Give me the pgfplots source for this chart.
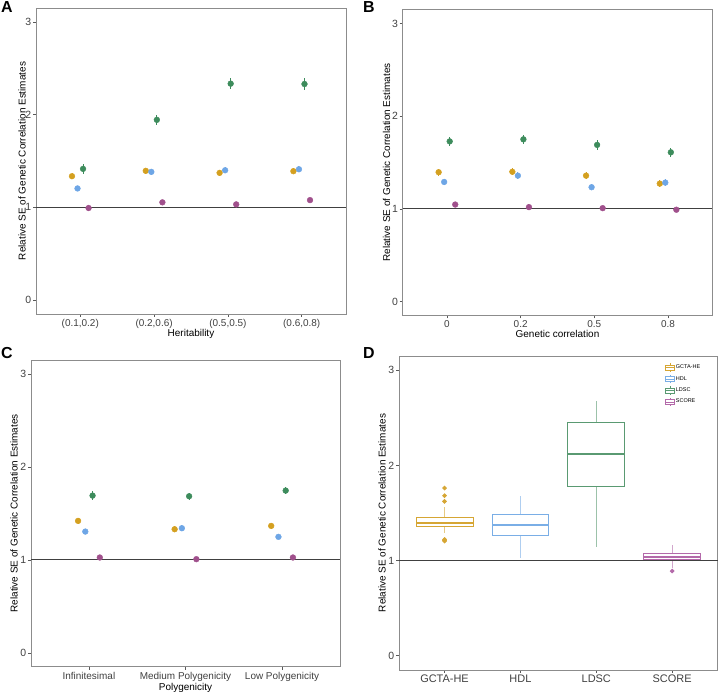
\documentclass[border=0pt]{standalone}
\usepackage{fontspec}
\setmainfont{Liberation Sans}
\usepackage{pgfplots}
\pgfplotsset{compat=1.18}
\usepgfplotslibrary{statistics}
\definecolor{cO}{HTML}{D4A020}
\definecolor{cB}{HTML}{6EA6E6}
\definecolor{cG}{HTML}{3D8C5C}
\definecolor{cP}{HTML}{A0508C}
\definecolor{dO}{HTML}{D6A634}
\definecolor{dB}{HTML}{7AAEE6}
\definecolor{dG}{HTML}{5A9A72}
\definecolor{dP}{HTML}{B46AAA}
\pgfplotsset{
  panel/.style={
    scale only axis,
    ymin=-0.15, ymax=3.15,
    ytick={0,1,2,3},
    tick align=outside,
    tick pos=left,
    major tick length=3bp,
    tick style={black!65, line width=0.5bp},
    axis line style={black!45, line width=0.8bp},
    /pgf/number format/assume math mode=true,
    ticklabel style={font=\fontsize{10}{11}\selectfont, text=black!75},
    yticklabel style={inner sep=1.5bp, font=\fontsize{10.5}{11}\selectfont},
    xticklabel style={inner sep=2bp},
    label style={font=\fontsize{10}{11}\selectfont},
    ylabel={Relative SE of Genetic Correlation Estimates},
    clip=false,
  },
  pts/.style={only marks, mark=*, mark size=2.9bp, color=#1,
    mark options={fill=#1, draw=#1},
    error bars/.cd, y dir=both, y explicit, error mark=none,
    error bar style={line width=0.9bp, color=#1}},
  boxleg/.style={legend image code/.code={
    \draw[##1] (0bp,-2.6bp) rectangle (9bp,2.6bp);
    \draw[##1] (0bp,0bp) -- (9bp,0bp);
    \draw[##1] (4.5bp,2.6bp) -- (4.5bp,4.2bp);
    \draw[##1] (4.5bp,-2.6bp) -- (4.5bp,-4.2bp);
  }},
}
\begin{document}
\begin{tikzpicture}
\useasboundingbox (0,0) rectangle (719bp,692bp);
% ---------------- A
\begin{axis}[panel, at={(36bp,378bp)}, anchor=south west, width=310bp, height=306bp,
  xmin=0.4, xmax=4.6, xtick={1,2,3,4},
  xticklabels={{(0.1,0.2)},{(0.2,0.6)},{(0.5,0.5)},{(0.6,0.8)}},
  xlabel={Heritability},
  xlabel style={at={(axis description cs:0.5,-0.066)}, anchor=center},
  ylabel style={at={(axis description cs:-0.045,0.5)}, anchor=center}]
\addplot[black!75, line width=1bp] coordinates {(0.4,1) (4.6,1)};
\addplot[pts=cO] coordinates {(0.8875,1.336) +- (0,0.03) (1.8875,1.394) +- (0,0.03) (2.8875,1.372) +- (0,0.03) (3.8875,1.390) +- (0,0.03)};
\addplot[pts=cB] coordinates {(0.9625,1.204) +- (0,0.03) (1.9625,1.383) +- (0,0.03) (2.9625,1.400) +- (0,0.03) (3.9625,1.411) +- (0,0.03)};
\addplot[pts=cG] coordinates {(1.0375,1.415) +- (0,0.05) (2.0375,1.944) +- (0,0.055) (3.0375,2.334) +- (0,0.06) (4.0375,2.330) +- (0,0.06)};
\addplot[pts=cP] coordinates {(1.1125,0.993) +- (0,0.02) (2.1125,1.054) +- (0,0.02) (3.1125,1.032) +- (0,0.02) (4.1125,1.078) +- (0,0.02)};
\end{axis}
% ---------------- B
\begin{axis}[panel, at={(402.7bp,376.7bp)}, anchor=south west, width=309.6bp, height=305.6bp,
  xmin=0.4, xmax=4.6, xtick={1,2,3,4},
  xticklabels={0,0.2,0.5,0.8},
  xlabel={Genetic correlation},
  xlabel style={at={(axis description cs:0.5,-0.062)}, anchor=center},
  ylabel style={at={(axis description cs:-0.052,0.5)}, anchor=center}]
\addplot[black!75, line width=1bp] coordinates {(0.4,1) (4.6,1)};
\addplot[pts=cO] coordinates {(0.8875,1.395) +- (0,0.04) (1.8875,1.400) +- (0,0.04) (2.8875,1.358) +- (0,0.04) (3.8875,1.272) +- (0,0.04)};
\addplot[pts=cB] coordinates {(0.9625,1.290) +- (0,0.035) (1.9625,1.358) +- (0,0.035) (2.9625,1.233) +- (0,0.035) (3.9625,1.283) +- (0,0.035)};
\addplot[pts=cG] coordinates {(1.0375,1.728) +- (0,0.05) (2.0375,1.750) +- (0,0.05) (3.0375,1.690) +- (0,0.05) (4.0375,1.610) +- (0,0.05)};
\addplot[pts=cP] coordinates {(1.1125,1.046) +- (0,0.03) (2.1125,1.018) +- (0,0.03) (3.1125,1.007) +- (0,0.025) (4.1125,0.990) +- (0,0.025)};
\end{axis}
% ---------------- C
\begin{axis}[panel, at={(31bp,25.3bp)}, anchor=south west, width=309bp, height=306.7bp,
  xmin=0.4, xmax=3.6, xtick={1,2,3},
  xticklabels={Infinitesimal,Medium Polygenicity,Low Polygenicity},
  xlabel={Polygenicity},
  xlabel style={at={(axis description cs:0.5,-0.068)}, anchor=center},
  ylabel style={at={(axis description cs:-0.055,0.5)}, anchor=center}]
\addplot[black!75, line width=1bp] coordinates {(0.4,1) (3.6,1)};
\addplot[pts=cO] coordinates {(0.8875,1.419) +- (0,0.03) (1.8875,1.329) +- (0,0.03) (2.8875,1.365) +- (0,0.03)};
\addplot[pts=cB] coordinates {(0.9625,1.304) +- (0,0.03) (1.9625,1.340) +- (0,0.03) (2.9625,1.247) +- (0,0.025)};
\addplot[pts=cG] coordinates {(1.0375,1.691) +- (0,0.045) (2.0375,1.684) +- (0,0.04) (3.0375,1.745) +- (0,0.04)};
\addplot[pts=cP] coordinates {(1.1125,1.025) +- (0,0.025) (2.1125,1.007) +- (0,0.02) (3.1125,1.025) +- (0,0.02)};
\end{axis}
% ---------------- D
\begin{axis}[panel, at={(399bp,22bp)}, anchor=south west, width=318.7bp, height=314bp,
  xmin=0.4, xmax=4.6, xtick={1,2,3,4},
  xticklabels={GCTA-HE,HDL,LDSC,SCORE},
  xticklabel style={font=\fontsize{11}{12}\selectfont},
  ylabel style={at={(axis description cs:-0.053,0.5)}, anchor=center},
  legend style={at={(0.835,0.978)}, anchor=north west, draw=none, fill=none,
    font=\fontsize{5.5}{6}\selectfont, row sep=2.4bp, inner sep=0pt,
    nodes={inner sep=1bp}},
  legend cell align=left,
  boxplot/draw direction=y,
  boxplot/whisker extend=0,
  boxplot/every whisker/.style={opacity=0.6},
  boxplot/every median/.style={line width=1.6bp},
  ]
\addplot[forget plot, draw=dO, line width=0.9bp, mark=*, mark size=1.8bp, mark options={fill=dO, draw=dO},
  boxplot prepared={lower whisker=1.287, lower quartile=1.36, median=1.395, upper quartile=1.455, upper whisker=1.566, draw position=1, box extend=0.75}]
  table[row sep=\\, y index=0]{1.762\\ 1.682\\ 1.622\\ 1.222\\ 1.205\\ 1.212\\};
\addplot[forget plot, draw=dB, line width=0.9bp, mark=*, mark size=1.8bp, mark options={fill=dB, draw=dB},
  boxplot prepared={lower whisker=1.031, lower quartile=1.266, median=1.374, upper quartile=1.483, upper whisker=1.678, draw position=2, box extend=0.75}]
  coordinates {};
\addplot[forget plot, draw=dG, line width=0.9bp, mark=*, mark size=1.8bp, mark options={fill=dG, draw=dG},
  boxplot prepared={lower whisker=1.143, lower quartile=1.78, median=2.122, upper quartile=2.448, upper whisker=2.678, draw position=3, box extend=0.75}]
  coordinates {};
\addplot[forget plot, draw=dP, line width=0.9bp, mark=*, mark size=1.8bp, mark options={fill=dP, draw=dP},
  boxplot prepared={lower whisker=0.925, lower quartile=1.007, median=1.035, upper quartile=1.07, upper whisker=1.168, draw position=4, box extend=0.75}]
  table[row sep=\\, y index=0]{0.89\\};
\addplot[forget plot, black!75, line width=1bp] coordinates {(0.4,1) (4.6,1)};
\addlegendimage{boxleg, draw=dO, line width=0.6bp}
\addlegendentry{GCTA-HE}
\addlegendimage{boxleg, draw=dB, line width=0.6bp}
\addlegendentry{HDL}
\addlegendimage{boxleg, draw=dG, line width=0.6bp}
\addlegendentry{LDSC}
\addlegendimage{boxleg, draw=dP, line width=0.6bp}
\addlegendentry{SCORE}
\end{axis}
% panel letters
\node[anchor=north west, inner sep=1bp, font=\fontsize{16}{18}\selectfont\bfseries] at (0bp,692bp) {A};
\node[anchor=north west, inner sep=1bp, font=\fontsize{16}{18}\selectfont\bfseries] at (362bp,692bp) {B};
\node[anchor=north west, inner sep=1bp, font=\fontsize{16}{18}\selectfont\bfseries] at (0bp,346bp) {C};
\node[anchor=north west, inner sep=1bp, font=\fontsize{16}{18}\selectfont\bfseries] at (362bp,346bp) {D};
\end{tikzpicture}
\end{document}
